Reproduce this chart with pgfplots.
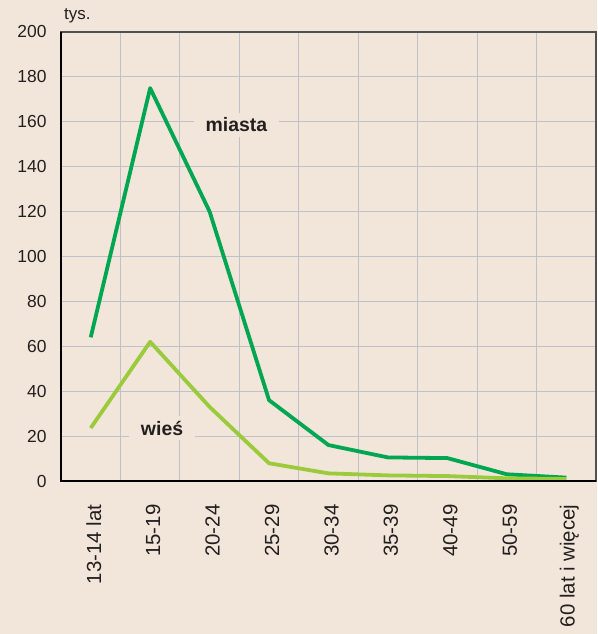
\documentclass[border=0pt]{standalone}
\usepackage{pgfplots}
\pgfplotsset{compat=1.18}
\usepackage{fontspec}
\setmainfont{Liberation Sans}
\definecolor{bg}{RGB}{242,230,218}
\definecolor{dgreen}{RGB}{0,166,81}
\definecolor{lgreen}{RGB}{155,203,60}
\definecolor{gridc}{RGB}{192,192,200}
\definecolor{frame}{RGB}{80,80,80}
\definecolor{txt}{RGB}{35,31,32}
\begin{document}
\begin{tikzpicture}[x=1bp,y=1bp]
\fill[bg] (-61,-153) rectangle (536,481);
\begin{axis}[
  at={(0,0)}, anchor=south west,
  scale only axis, width=535bp, height=449bp,
  xmin=0, xmax=9, ymin=0, ymax=200,
  xtick={0.5,1.5,2.5,3.5,4.5,5.5,6.5,7.5,8.5},
  xticklabels={13-14 lat,15-19,20-24,25-29,30-34,35-39,40-49,50-59,60 lat i więcej},
  x tick label style={rotate=90, anchor=east, font=\fontsize{20.5}{23}\selectfont, text=txt, yshift=-3bp},
  minor xtick={1,2,3,4,5,6,7,8},
  xminorgrids=true, xmajorgrids=false,
  ytick={0,20,...,200},
  ymajorgrids=true,
  y tick label style={font=\fontsize{17.5}{20}\selectfont, text=txt},
  /pgf/number format/assume math mode=true,
  major tick length=0pt, minor tick length=0pt,
  grid style={gridc, line width=1.1bp},
  minor grid style={gridc, line width=1.1bp},
  axis line style={frame, line width=2bp},
  axis background/.style={fill=bg},
  xticklabel shift=20bp,
  yticklabel shift=11bp,
  clip=false,
]
\addplot[dgreen, line width=3.8bp, line join=round] coordinates {
 (0.5,64) (1.5,175) (2.5,120) (3.5,36) (4.5,16) (5.5,10.5) (6.5,10.2) (7.5,3) (8.5,1.5)};
\addplot[lgreen, line width=3.8bp, line join=round] coordinates {
 (0.5,23.6) (1.5,62) (2.5,33) (3.5,7.9) (4.5,3.4) (5.5,2.5) (6.5,2.2) (7.5,1.2) (8.5,0.9)};
\node[fill=bg, text=txt, font=\bfseries\fontsize{19.5}{22}\selectfont, inner xsep=12bp, inner ysep=5bp] at (axis cs:2.95,158.6) {miasta};
\node[fill=bg, text=txt, font=\bfseries\fontsize{19.5}{22}\selectfont, inner xsep=12bp, inner ysep=5bp] at (axis cs:1.7,23.6) {wieś};
\draw[black, line width=2.5bp] (rel axis cs:0,1) -- (rel axis cs:0,0) -- (rel axis cs:1,0);
\node[anchor=south west, text=txt, font=\fontsize{17}{19}\selectfont, inner sep=0pt] at ([yshift=9bp, xshift=3bp]rel axis cs:0,1) {tys.};
\end{axis}
\end{tikzpicture}
\end{document}
